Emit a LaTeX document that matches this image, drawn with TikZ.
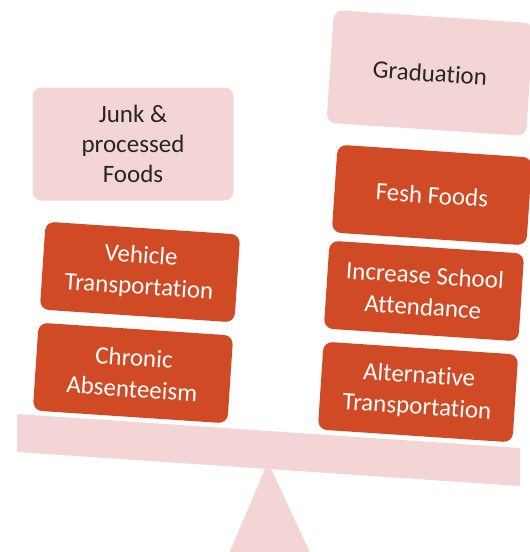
\documentclass[tikz,border=0pt]{standalone}
\usepackage{fontspec}
\setmainfont{Carlito}[Ligatures=NoCommon]
\definecolor{brick}{HTML}{D04A25}
\definecolor{blush}{HTML}{F2D5D4}
\definecolor{ink}{HTML}{262626}
\begin{document}
\begin{tikzpicture}[x=1pt,y=-1pt,
    weight/.style={rounded corners=9pt,fill=brick,text=white,minimum width=195pt,
      minimum height=88pt,align=center,inner sep=1pt,rotate=-3.8,
      font=\fontsize{25}{31.5}\selectfont},
    goal/.style={rounded corners=9pt,fill=blush,text=ink,minimum width=201pt,
      minimum height=113pt,align=center,inner sep=1pt,
      font=\fontsize{25}{30}\selectfont}]
      \useasboundingbox (0,0) rectangle (530,552);
      \clip (0,0) rectangle (530,552);
      % fulcrum and beam
      \fill[blush] (268,462) -- (222,570) -- (318,570) -- cycle;
      \fill[blush] (17,414) -- (520,448) -- (520,486) -- (17,452) -- cycle;
      % left pan
      \node[goal] (junk) at (133,144) {Junk \&\\processed\\Foods};
      \node[weight] (vehicle) at (140,272) {Vehicle\\Transportation};
      \node[weight] (chronic) at (133,373) {Chronic\\Absenteeism};
      % right pan
      \node[goal,rotate=-3.8,minimum width=200pt] (grad) at (430,73) {Graduation};
      \node[weight] (fresh) at (432,195) {Fesh Foods};
      \node[weight] (attend) at (424,291) {Increase School\\Attendance};
      \node[weight] (alttrans) at (418,392) {Alternative\\Transportation};
    \end{tikzpicture}
\end{document}
